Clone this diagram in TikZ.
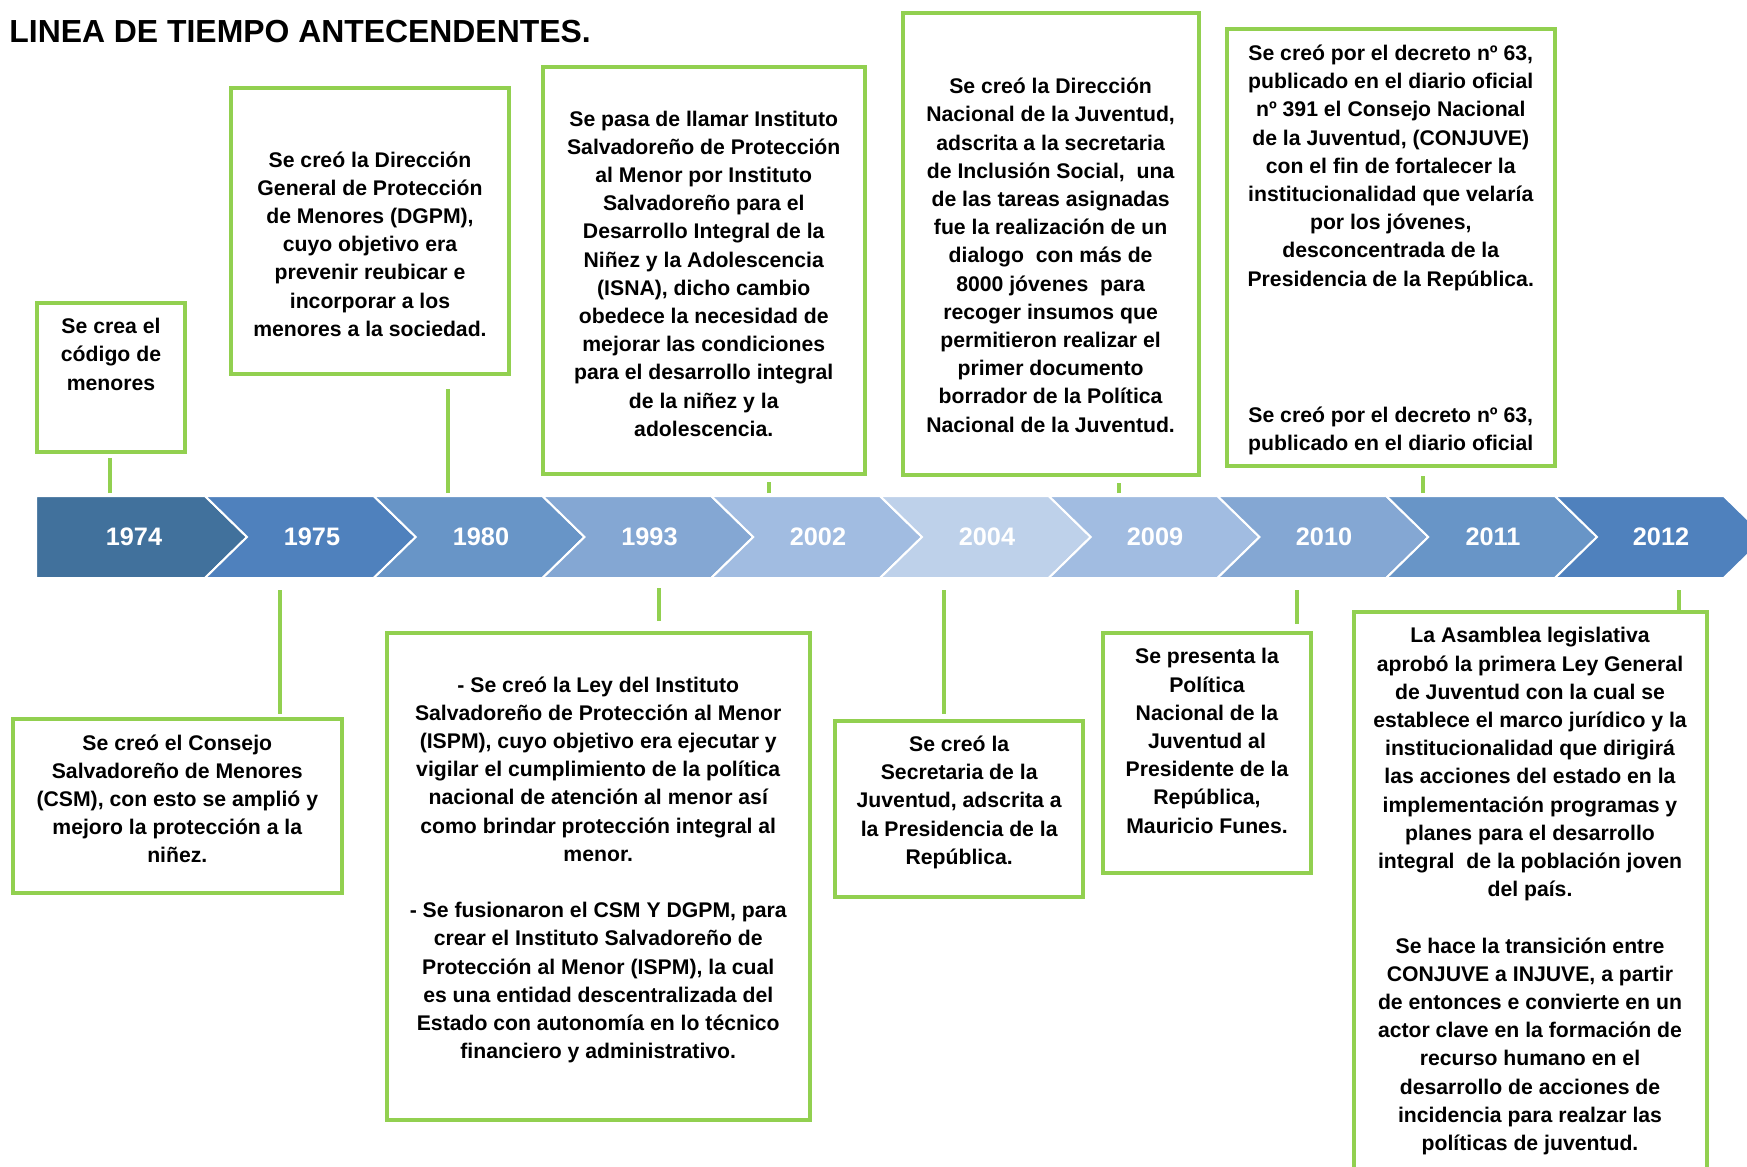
\documentclass[tikz,border=0pt]{standalone}
\usepackage{fontspec}
\setmainfont{Liberation Sans}
\usetikzlibrary{fit}
\definecolor{gline}{RGB}{146,208,80}
\definecolor{cA}{RGB}{65,113,156}
\definecolor{cB}{RGB}{79,129,189}
\definecolor{cC}{RGB}{104,149,199}
\definecolor{cD}{RGB}{132,167,211}
\definecolor{cE}{RGB}{161,188,225}
\definecolor{cF}{RGB}{190,209,234}
\begin{document}
\begin{tikzpicture}[x=0.5pt,y=-0.5pt,
  gbox/.style={draw=gline, line width=2pt, inner sep=0pt},
  txt/.style={align=center, inner sep=0pt, anchor=north, font=\fontsize{10.6pt}{14.1pt}\selectfont\bfseries},
  yr/.style={text=white, inner sep=0pt, font=\fontsize{12.65pt}{15pt}\selectfont\bfseries},
  conn/.style={draw=gline, line width=2pt},
  chev/.style={draw=white, line width=1pt}]
\clip (0,0) rectangle (1747,1167);
\fill[white] (0,0) rectangle (1747,1167);

% title
\node[anchor=base west, inner sep=0pt, font=\fontsize{15.95pt}{19pt}\selectfont\bfseries] (title) at (9,42) {LINEA DE TIEMPO ANTECENDENTES.};

% chevron bar
\filldraw[chev, fill=cA] (36,496) -- (205,496) -- (247,537) -- (205,578) -- (36,578) -- cycle;
\foreach \k/\c in {1/cB,2/cC,3/cD,4/cE,5/cF,6/cE,7/cD,8/cC,9/cB}{
  \pgfmathsetmacro{\L}{205+168.75*(\k-1)}
  \pgfmathsetmacro{\R}{\L+168.75}
  \filldraw[chev, fill=\c] (\L,496) -- (\R,496) -- (\R+42,537) -- (\R,578) -- (\L,578) -- (\L+42,537) -- cycle;
}
\node[yr] (y74) at (134,537) {1974};
\node[yr] (y75) at (312,537) {1975};
\node[yr] (y80) at (481,537) {1980};
\node[yr] (y93) at (649.5,537) {1993};
\node[yr] (y02) at (818,537) {2002};
\node[yr] (y04) at (987,537) {2004};
\node[yr] (y09) at (1155,537) {2009};
\node[yr] (y10) at (1324,537) {2010};
\node[yr] (y11) at (1493,537) {2011};
\node[yr] (y12) at (1661,537) {2012};

% top boxes
\node[gbox, fit={(37,303) (185,452)}] (bA) {};
\node[gbox, fit={(231,88) (509,374)}] (bB) {};
\node[gbox, fit={(542.5,67) (865,474)}] (bC) {};
\node[gbox, fit={(902.5,13) (1198.7,475)}] (bD) {};
\node[gbox, fit={(1226.5,29) (1555,466)}] (bE) {};
% bottom boxes
\node[gbox, fit={(12.6,719.4) (342,892.5)}] (bF) {};
\node[gbox, fit={(387,633) (809.5,1119.7)}] (bG) {};
\node[gbox, fit={(835,721.3) (1083.4,896.6)}] (bH) {};
\node[gbox, fit={(1103.4,633.3) (1310.5,872.6)}] (bI) {};
\node[gbox, fit={(1353.5,612) (1706.6,1200)}] (bJ) {};

% texts
\node[txt] (tA) at (111,313.6) {\strut Se crea el\\código de\\menores};
\node[txt] (tB) at (370,147) {\strut Se creó la Dirección\\General de Protección\\de Menores (DGPM),\\cuyo objetivo era\\prevenir reubicar e\\incorporar a los\\menores a la sociedad.};
\node[txt] (tC) at (703.75,106) {\strut Se pasa de llamar Instituto\\Salvadoreño de Protección\\al Menor por Instituto\\Salvadoreño para el\\Desarrollo Integral de la\\Niñez y la Adolescencia\\(ISNA), dicho cambio\\obedece la necesidad de\\mejorar las condiciones\\para el desarrollo integral\\de la niñez y la\\adolescencia.};
\node[txt] (tD) at (1050.6,73.6) {\strut Se creó la Dirección\\Nacional de la Juventud,\\adscrita a la secretaria\\de Inclusión Social,\ \ una\\de las tareas asignadas\\fue la realización de un\\dialogo\ \ con más de\\8000 jóvenes\ \ para\\recoger insumos que\\permitieron realizar el\\primer documento\\borrador de la Política\\Nacional de la Juventud.};
\node[txt] (tE) at (1390.75,40.3) {\strut Se creó por el decreto nº 63,\\publicado en el diario oficial\\nº 391 el Consejo Nacional\\de la Juventud, (CONJUVE)\\con el fin de fortalecer la\\institucionalidad que velaría\\por los jóvenes,\\desconcentrada de la\\Presidencia de la República.\\[54pt]Se creó por el decreto nº 63,\\publicado en el diario oficial};
\node[txt] (tF) at (177.3,729.9) {\strut Se creó el Consejo\\Salvadoreño de Menores\\(CSM), con esto se amplió y\\mejoro la protección a la\\niñez.};
\node[txt] (tG) at (598.25,671.9) {\strut - Se creó la Ley del Instituto\\Salvadoreño de Protección al Menor\\(ISPM), cuyo objetivo era ejecutar y\\vigilar el cumplimiento de la política\\nacional de atención al menor así\\como brindar protección integral al\\menor.\\[14.1pt]- Se fusionaron el CSM Y DGPM, para\\crear el Instituto Salvadoreño de\\Protección al Menor (ISPM), la cual\\es una entidad descentralizada del\\Estado con autonomía en lo técnico\\financiero y administrativo.};
\node[txt] (tH) at (959.2,731.4) {\strut Se creó la\\Secretaria de la\\Juventud, adscrita a\\la Presidencia de la\\República.};
\node[txt] (tI) at (1207,643.8) {\strut Se presenta la\\Política\\Nacional de la\\Juventud al\\Presidente de la\\República,\\Mauricio Funes.};
\node[txt] (tJ) at (1530,622.8) {\strut La Asamblea legislativa\\aprobó la primera Ley General\\de Juventud con la cual se\\establece el marco jurídico y la\\institucionalidad que dirigirá\\las acciones del estado en la\\implementación programas y\\planes para el desarrollo\\integral\ \ de la población joven\\del país.\\[14.1pt]Se hace la transición entre\\CONJUVE a INJUVE, a partir\\de entonces e convierte en un\\actor clave en la formación de\\recurso humano en el\\desarrollo de acciones de\\incidencia para realzar las\\políticas de juventud.};

% connector ends at the bar
\coordinate (k74) at (109.5,493);
\coordinate (k80) at (448,493);
\coordinate (k02) at (769,493);
\coordinate (k09) at (1119,493);
\coordinate (k11) at (1423,493);
\coordinate (k75) at (279.5,590);
\coordinate (k93) at (658.5,588);
\coordinate (k04) at (943.6,590);
\coordinate (k10) at (1296.5,590);
\coordinate (k12) at (1679,590);

% connectors
\draw[conn, shorten >=2pt] (k74) -- (k74 |- bA.south);
\draw[conn, shorten >=6.5pt] (k80) -- (k80 |- bB.south);
\draw[conn, shorten >=3pt] (k02) -- (k02 |- bC.south);
\draw[conn, shorten >=3pt] (k09) -- (k09 |- bD.south);
\draw[conn, shorten >=4pt] (k11) -- (k11 |- bE.south);
\draw[conn, shorten >=1.7pt] (k75) -- (k75 |- bF.north);
\draw[conn, shorten >=5pt] (k93) -- (k93 |- bG.north);
\draw[conn, shorten >=2.6pt] (k04) -- (k04 |- bH.north);
\draw[conn, shorten >=3.6pt] (k10) -- (k10 |- bI.north);
\draw[conn] (k12) -- (k12 |- bJ.north);
\end{tikzpicture}
\end{document}
